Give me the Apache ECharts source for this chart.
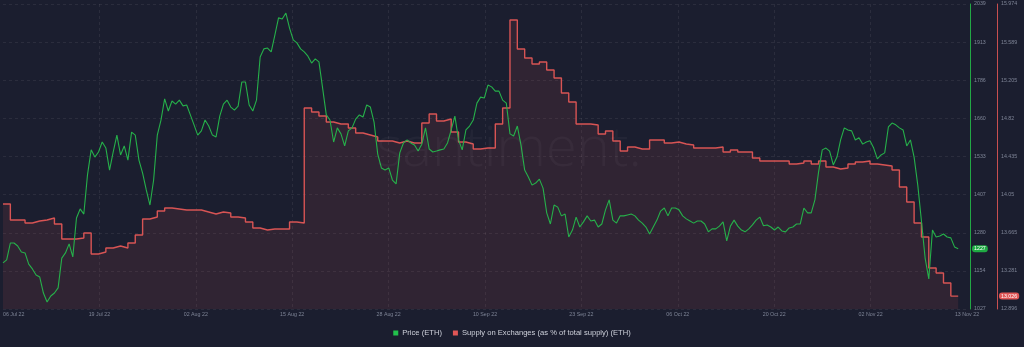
<!DOCTYPE html>
<html>
<head>
<meta charset="utf-8">
<script src="https://cdn.jsdelivr.net/npm/echarts@6/dist/echarts.min.js"></script>
<style>
html,body{margin:0;padding:0;background:#1b1e2f;}
#chart{width:1024px;height:347px;}
</style>
</head>
<body>
<div id="chart"></div>
<script>
// X tick labels (one every 13.12 days, starting 06 Jul 22)
const xTickLabels = ['06 Jul 22','19 Jul 22','02 Aug 22','15 Aug 22','28 Aug 22','10 Sep 22','23 Sep 22','06 Oct 22','20 Oct 22','02 Nov 22','13 Nov 22'];
const xTickStepDays = 13.12;

// Y tick labels, bottom to top
const priceTickLabels = ['1027','1154','1280','1407','1533','1660','1786','1913','2039'];
const supplyTickLabels = ['12.896','13.281','13.665','14.05','14.435','14.82','15.205','15.589','15.974'];

// ETH price (USD), sampled every half day from 06 Jul 22
const priceETH = [
1180,1190,1246,1246,1236,1216,1213,1176,1160,1140,
1133,1080,1050,1070,1080,1097,1196,1213,1243,1200,
1329,1359,1342,1472,1555,1531,1548,1581,1561,1488,
1548,1604,1538,1568,1521,1614,1604,1521,1478,1422,
1372,1455,1604,1654,1724,1684,1717,1707,1720,1701,
1704,1671,1638,1604,1618,1654,1634,1604,1598,1667,
1707,1720,1697,1687,1700,1780,1780,1704,1684,1720,
1863,1890,1893,1880,1936,1993,1989,2009,1959,1920,
1910,1890,1880,1866,1843,1857,1847,1760,1671,1654,
1581,1628,1608,1568,1618,1628,1657,1671,1664,1704,
1697,1647,1541,1495,1488,1495,1455,1442,1545,1578,
1588,1578,1571,1551,1574,1628,1558,1548,1551,1555,
1558,1578,1621,1667,1588,1555,1621,1634,1654,1710,
1730,1727,1770,1764,1750,1750,1720,1710,1608,1601,
1634,1571,1488,1465,1438,1445,1458,1428,1346,1309,
1372,1365,1336,1342,1266,1289,1332,1299,1316,1336,
1319,1322,1299,1309,1356,1389,1322,1312,1336,1336,
1339,1342,1336,1322,1312,1299,1276,1299,1322,1352,
1362,1336,1362,1362,1356,1336,1326,1319,1312,1319,
1319,1309,1283,1293,1293,1302,1316,1253,1302,1322,
1302,1289,1283,1293,1306,1322,1332,1303,1306,1299,
1289,1299,1286,1283,1296,1299,1309,1309,1362,1346,
1346,1389,1482,1555,1561,1551,1505,1531,1588,1628,
1621,1618,1588,1595,1574,1581,1585,1561,1525,1538,
1545,1631,1644,1638,1628,1621,1568,1588,1531,1438,
1319,1196,1127,1289,1266,1269,1276,1266,1263,1233,
1227
];

// Supply on exchanges (% of total supply), daily from 06 Jul 22
const supplyOnExchanges = [
13.956,13.794,13.794,13.764,13.784,13.794,13.814,13.754,13.602,13.602,
13.612,13.663,13.451,13.471,13.512,13.532,13.512,13.562,13.643,13.804,
13.824,13.885,13.915,13.905,13.895,13.895,13.895,13.875,13.855,13.875,
13.865,13.824,13.814,13.774,13.713,13.693,13.703,13.703,13.703,13.774,
13.764,14.924,14.884,14.844,14.783,14.763,14.763,14.723,14.672,14.652,
14.632,14.591,14.591,14.571,14.591,14.571,14.571,14.773,14.864,14.793,
14.813,14.682,14.581,14.561,14.511,14.521,14.521,14.763,14.924,15.813,
15.520,15.429,15.368,15.389,15.308,15.227,15.076,14.985,14.763,14.763,
14.753,14.662,14.692,14.591,14.491,14.531,14.511,14.511,14.602,14.602,
14.571,14.581,14.561,14.551,14.521,14.521,14.521,14.531,14.480,14.501,
14.480,14.480,14.420,14.390,14.390,14.390,14.390,14.359,14.369,14.390,
14.359,14.390,14.329,14.309,14.319,14.359,14.380,14.390,14.359,14.349,
14.339,14.299,14.127,13.976,13.764,13.623,13.310,13.259,13.158,13.026
];

const priceAxis = {min: 1027, max: 2039, interval: 126.5};
const supplyAxis = {min: 12.896, max: 15.974, interval: 0.38475};
const lastPrice = 1227;
const lastSupply = 13.026;

const priceSeries = priceETH.map((v, i) => [i * 0.5, v]);
const supplySeries = supplyOnExchanges.map((v, i) => [i, v]);
supplySeries.push([supplyOnExchanges.length, supplyOnExchanges[supplyOnExchanges.length - 1]]);

const chart = echarts.init(document.getElementById('chart'), null, {renderer: 'canvas'});
const FONT = '"Liberation Sans", Arial, sans-serif';
const axisLabelColor = '#7f8597';
const gridColor = 'rgba(255,255,255,0.07)';

function tickIndex(v, axis) { return Math.round((v - axis.min) / axis.interval); }

chart.setOption({
  backgroundColor: '#1b1e2f',
  animation: false,
  textStyle: {fontFamily: FONT},
  graphic: [{
    type: 'text', x: 509, y: 150, z: 50, silent: true,
    style: {text: 'santiment.', font: '300 56px "Open Sans", sans-serif', fill: 'rgba(255,255,255,0.035)', align: 'center', verticalAlign: 'middle'}
  }],
  grid: {left: 0, right: 57, top: 4, bottom: 38, containLabel: false},
  legend: {
    top: 329, left: 'center', padding: 0,
    icon: 'rect', itemWidth: 5, itemHeight: 5, itemGap: 11,
    textStyle: {color: '#cdd0da', fontSize: 7.6, fontFamily: FONT, padding: [0, 0, 0, -1]},
    data: ['Price (ETH)', 'Supply on Exchanges (as % of total supply) (ETH)']
  },
  xAxis: {
    type: 'value', min: 0, max: xTickStepDays * 10, interval: xTickStepDays,
    axisLine: {show: false, onZero: false}, axisTick: {show: false},
    axisPointer: {show: false, type: 'none', lineStyle: {opacity: 0}, label: {show: false}},
    axisLabel: {
      color: axisLabelColor, fontSize: 5.3, margin: 3, alignMinLabel: 'left', showMaxLabel: true,
      formatter: v => xTickLabels[Math.round(v / xTickStepDays)] || ''
    },
    splitLine: {show: true, showMinLine: false, showMaxLine: false, lineStyle: {color: gridColor, type: [3, 3], width: 1}}
  },
  yAxis: [{
    type: 'value', position: 'right', offset: 3,
    min: priceAxis.min, max: priceAxis.max, interval: priceAxis.interval,
    axisLine: {show: true, onZero: false, lineStyle: {color: '#22a845', width: 1}},
    axisTick: {show: false},
    axisLabel: {color: axisLabelColor, fontSize: 5.3, margin: 4, formatter: v => priceTickLabels[tickIndex(v, priceAxis)] || ''},
    splitLine: {show: true, lineStyle: {color: gridColor, type: [3, 3], width: 1}},
    axisPointer: {
      show: true, status: 'show', value: lastPrice, type: 'line', triggerTooltip: false,
      lineStyle: {opacity: 0},
      label: {show: true, backgroundColor: '#1faa43', color: '#ffffff', fontSize: 5.3, padding: [1, 2, 1, 2], margin: 2,
              formatter: p => String(Math.round(p.value))}
    }
  }, {
    type: 'value', position: 'right', offset: 30,
    min: supplyAxis.min, max: supplyAxis.max, interval: supplyAxis.interval,
    axisLine: {show: true, onZero: false, lineStyle: {color: '#c94f50', width: 1}},
    axisTick: {show: false},
    axisLabel: {color: axisLabelColor, fontSize: 5.3, margin: 4, formatter: v => supplyTickLabels[tickIndex(v, supplyAxis)] || ''},
    splitLine: {show: false},
    axisPointer: {
      show: true, status: 'show', value: lastSupply, type: 'line', triggerTooltip: false,
      lineStyle: {opacity: 0},
      label: {show: true, backgroundColor: '#e05656', color: '#ffffff', fontSize: 5.3, padding: [1, 2, 1, 2], margin: 2,
              formatter: p => Number(p.value).toFixed(3)}
    }
  }],
  axisPointer: {triggerOn: 'none', lineStyle: {opacity: 0}},
  series: [{
    name: 'Supply on Exchanges (as % of total supply) (ETH)',
    type: 'line', yAxisIndex: 1, step: 'end', showSymbol: false, symbol: 'none',
    data: supplySeries,
    itemStyle: {color: '#e05656'},
    lineStyle: {color: '#d85454', width: 1.4},
    areaStyle: {color: 'rgba(214,86,86,0.17)', origin: 'start'},
    z: 2
  }, {
    name: 'Price (ETH)',
    type: 'line', yAxisIndex: 0, showSymbol: false, symbol: 'none',
    data: priceSeries,
    itemStyle: {color: '#22c14c'},
    lineStyle: {color: '#26b04a', width: 1.1},
    z: 3
  }]
});
</script>
</body>
</html>
